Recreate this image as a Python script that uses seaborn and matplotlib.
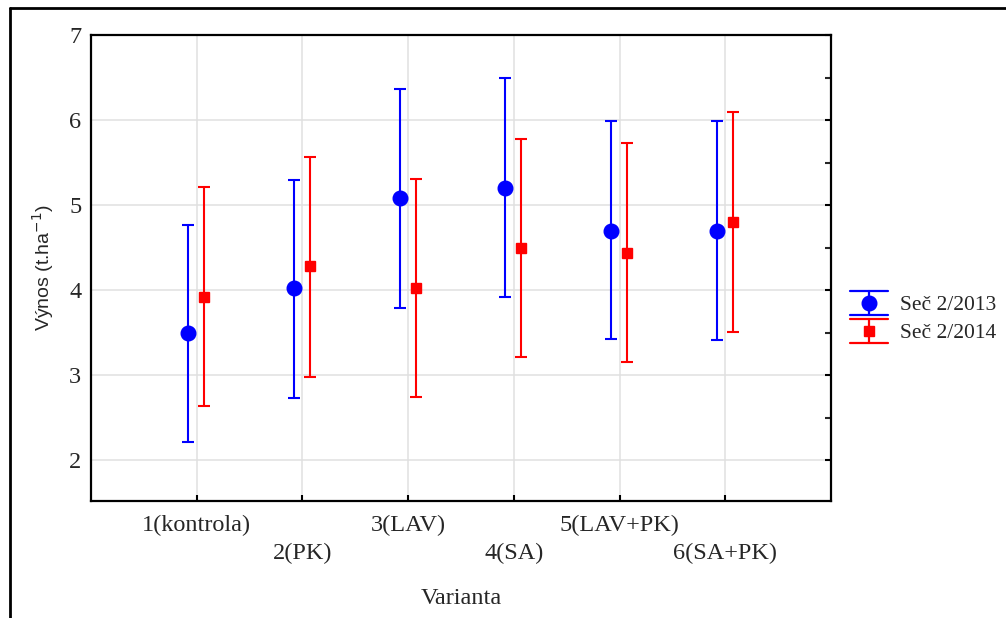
import numpy as np
import pandas as pd
import seaborn as sns
import matplotlib.pyplot as plt
from matplotlib.lines import Line2D
from matplotlib.legend_handler import HandlerBase
from matplotlib.ticker import MultipleLocator

categories = ["1(kontrola)", "2(PK)", "3(LAV)", "4(SA)", "5(LAV+PK)", "6(SA+PK)"]
series = ["Seč 2/2013", "Seč 2/2014"]
mean_2013 = [3.49, 4.02, 5.08, 5.20, 4.70, 4.70]
low_2013 = [2.21, 2.73, 3.79, 3.92, 3.42, 3.41]
high_2013 = [4.77, 5.30, 6.37, 6.49, 5.99, 5.99]
mean_2014 = [3.92, 4.28, 4.02, 4.49, 4.44, 4.80]
low_2014 = [2.64, 2.98, 2.74, 3.21, 3.16, 3.51]
high_2014 = [5.21, 5.56, 5.31, 5.78, 5.73, 6.09]
yticks = [2, 3, 4, 5, 6, 7]

sns.set_theme(style="white")
plt.rcParams['font.family'] = ['Liberation Serif', 'DejaVu Serif']

fig = plt.figure(figsize=(10.06, 6.18), dpi=100)
ax = fig.add_axes([91/1006, 1-501/618, (831-91)/1006, (501-35)/618])

df = pd.DataFrame({
    "cat": list(range(1, 7)) * 2,
    "series": [series[0]] * 6 + [series[1]] * 6,
    "mean": mean_2013 + mean_2014,
    "low": low_2013 + low_2014,
    "high": high_2013 + high_2014,
})
styles = {series[0]: dict(color="#0000ff", marker="o", ms=10.5, off=-0.08),
          series[1]: dict(color="#ff0000", marker="s", ms=6.5, off=0.07)}

for s in series:
    d = df[df.series == s]
    st = styles[s]
    x = d["cat"].values + st["off"]
    y = d["mean"].values
    err = np.vstack([y - d["low"].values, d["high"].values - y])
    ax.errorbar(x, y, yerr=err, fmt=st["marker"], color=st["color"],
                ms=st["ms"], capsize=4, elinewidth=1.5, capthick=1.5,
                label=s, zorder=3)


class ErrHandler(HandlerBase):
    def __init__(self, color, marker, ms):
        super().__init__()
        self.color, self.marker, self.ms = color, marker, ms

    def create_artists(self, legend, orig_handle, xdescent, ydescent, width,
                       height, fontsize, trans):
        cx = width / 2 - xdescent
        cy = height / 2 - ydescent
        h = 1.0 * height
        top = Line2D([-xdescent, width - xdescent], [cy + h / 2, cy + h / 2],
                     color=self.color, lw=1.6, transform=trans)
        bot = Line2D([-xdescent, width - xdescent], [cy - h / 2, cy - h / 2],
                     color=self.color, lw=1.6, transform=trans)
        vert = Line2D([cx, cx], [cy - h / 2, cy + h / 2], color=self.color,
                      lw=1.6, transform=trans)
        mk = Line2D([cx], [cy], marker=self.marker, ms=self.ms, color=self.color,
                    ls="none", transform=trans)
        return [top, bot, vert, mk]


ax.set_xlim(0, 7)
ax.set_ylim(1.52, 7)
ax.set_xticks(range(1, 7))
ax.set_xticklabels([c if i % 2 == 0 else "\n" + c for i, c in enumerate(categories)],
                   fontsize=17.5, linespacing=1.45)
ax.set_yticks(yticks)
ax.set_yticklabels([str(v) for v in yticks], fontsize=17.5)
ax.yaxis.set_minor_locator(MultipleLocator(0.5))
ax.grid(True, which="major", color="#e0e0e0", linewidth=1.1, zorder=0)
ax.set_axisbelow(True)
for sp in ax.spines.values():
    sp.set_color("black")
    sp.set_linewidth(1.6)
ax.tick_params(axis="both", which="major", direction="in", length=4, width=1.5,
               color="black", left=False, bottom=True, right=True, top=False)
ax.tick_params(axis="y", which="major", pad=7)
ax.tick_params(axis="y", which="minor", direction="in", length=4, width=1.5,
               left=False, right=True)
ax.tick_params(axis="x", pad=10)

ax.set_xlabel("Varianta", fontsize=17.5, labelpad=17)
ax.set_ylabel("Výnos (t.ha$^{-1}$)", fontsize=14, family=["Liberation Sans", "DejaVu Sans"])
ax.yaxis.set_label_coords(-0.047, 0.5)

proxies = [Line2D([], [], color=styles[s]["color"]) for s in series]
hmap = {proxies[i]: ErrHandler(styles[s]["color"], styles[s]["marker"],
                               styles[s]["ms"] if i == 0 else 6.5)
        for i, s in enumerate(series)}
leg = ax.legend(handles=proxies, labels=series, loc="center left",
                bbox_to_anchor=(1.0, 0.395), frameon=False, fontsize=15.5,
                handlelength=1.75, handleheight=1.35, handletextpad=0.55,
                labelspacing=0.2, handler_map=hmap, borderaxespad=0.5)

# outer frame of the page box
fig.add_artist(Line2D([10/1006, 10/1006], [0, 1-8/618], color="black", lw=2,
                      transform=fig.transFigure))
fig.add_artist(Line2D([10/1006, 1], [1-8/618, 1-8/618], color="black", lw=2,
                      transform=fig.transFigure))

fig.savefig("out.png", dpi=100)
